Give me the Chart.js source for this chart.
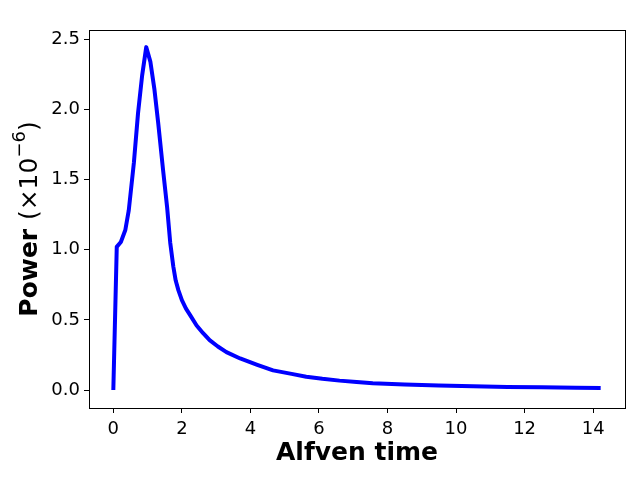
<!DOCTYPE html>
<html>
<head>
<meta charset="utf-8">
<script src="https://cdn.jsdelivr.net/npm/chart.js@4/dist/chart.umd.min.js"></script>
<style>
  html, body { margin: 0; padding: 0; background: #fff; }
  #wrap { width: 640px; height: 480px; }
</style>
</head>
<body>
<div id="wrap"><canvas id="powerChart" width="640" height="480"></canvas></div>
<script>
  // Data
  const alfvenTime = [0, 0.1, 0.22, 0.35, 0.45, 0.6, 0.72, 0.84, 0.96, 1.08, 1.2, 1.31, 1.45, 1.57, 1.66, 1.75, 1.82, 1.9, 2.0, 2.12, 2.25, 2.43, 2.62, 2.81, 3.05, 3.3, 3.7, 4.2, 4.66, 5.2, 5.63, 6.1, 6.6, 7.1, 7.57, 8.5, 9.5, 10.5, 11.5, 12.5, 13.5, 14.22];
  const power = [0, 1.02, 1.055, 1.14, 1.28, 1.62, 1.97, 2.24, 2.443, 2.34, 2.14, 1.90, 1.57, 1.30, 1.05, 0.88, 0.78, 0.71, 0.64, 0.58, 0.53, 0.46, 0.405, 0.355, 0.31, 0.27, 0.225, 0.18, 0.14, 0.115, 0.095, 0.08, 0.067, 0.057, 0.049, 0.04, 0.033, 0.027, 0.022, 0.019, 0.016, 0.014];
  const xTicks = [0, 2, 4, 6, 8, 10, 12, 14];
  const yTicks = [0, 0.5, 1.0, 1.5, 2.0, 2.5];

  const font = 'DejaVu Sans';

  // Spines on all four sides + y title with mixed weights
  const framePlugin = {
    id: 'frame',
    afterDraw(chart) {
      const ctx = chart.ctx;
      const a = chart.chartArea;
      ctx.save();
      ctx.strokeStyle = '#000';
      ctx.lineWidth = 1;
      ctx.strokeRect(Math.round(a.left) + 0.5, Math.round(a.top) + 0.5,
                     Math.round(a.right - a.left), Math.round(a.bottom - a.top));

      // Y axis title: bold "Power" + regular "(×10" + superscript "−6" + ")"
      const parts = [
        { t: 'Power ', f: 'bold 25px ' + font, dy: 0 },
        { t: '(×10', f: '25px ' + font, dy: 0 },
        { t: '−6', f: '18px ' + font, dy: -10 },
        { t: ')', f: '25px ' + font, dy: 0 }
      ];
      let total = 0;
      parts.forEach(p => { ctx.font = p.f; p.w = ctx.measureText(p.t).width; total += p.w; });
      ctx.translate(30, (a.top + a.bottom) / 2);
      ctx.rotate(-Math.PI / 2);
      ctx.fillStyle = '#000';
      ctx.textBaseline = 'middle';
      ctx.textAlign = 'left';
      let x = -total / 2;
      parts.forEach(p => {
        ctx.font = p.f;
        ctx.fillText(p.t, x, p.dy);
        x += p.w;
      });
      ctx.restore();
    }
  };

  const ctx = document.getElementById('powerChart').getContext('2d');
  const powerChart = new Chart(ctx, {
    type: 'line',
    data: {
      datasets: [{
        data: alfvenTime.map((t, i) => ({ x: t, y: power[i] })),
        borderColor: '#0000ff',
        borderWidth: 4,
        borderJoinStyle: 'round',
        borderCapStyle: 'butt',
        pointRadius: 0,
        tension: 0,
        fill: false
      }]
    },
    options: {
      responsive: false,
      animation: false,
      layout: { padding: { top: 30, right: 15, left: 0, bottom: 0 } },
      plugins: { legend: { display: false }, tooltip: { enabled: false } },
      scales: {
        x: {
          type: 'linear',
          min: -0.71,
          max: 14.93,
          afterBuildTicks: axis => { axis.ticks = xTicks.map(v => ({ value: v })); },
          afterFit: axis => { axis.height = 72; },
          grid: { drawOnChartArea: false, drawTicks: true, tickLength: 5, color: '#000' },
          border: { display: true, color: '#000', width: 1 },
          ticks: {
            color: '#000',
            font: { family: font, size: 18 },
            padding: 6,
            maxRotation: 0,
            callback: v => String(v)
          },
          title: {
            display: true,
            text: 'Alfven time',
            color: '#000',
            font: { family: font, size: 25, weight: 'bold' },
            padding: { top: 0, bottom: 12 }
          }
        },
        y: {
          type: 'linear',
          min: -0.128,
          max: 2.565,
          afterBuildTicks: axis => { axis.ticks = yTicks.map(v => ({ value: v })); },
          afterFit: axis => { axis.width = 89; },
          grid: { drawOnChartArea: false, drawTicks: true, tickLength: 5, color: '#000' },
          border: { display: true, color: '#000', width: 1 },
          ticks: {
            color: '#000',
            font: { family: font, size: 18 },
            padding: 4,
            callback: v => v.toFixed(1)
          }
        }
      }
    },
    plugins: [framePlugin]
  });
</script>
</body>
</html>
